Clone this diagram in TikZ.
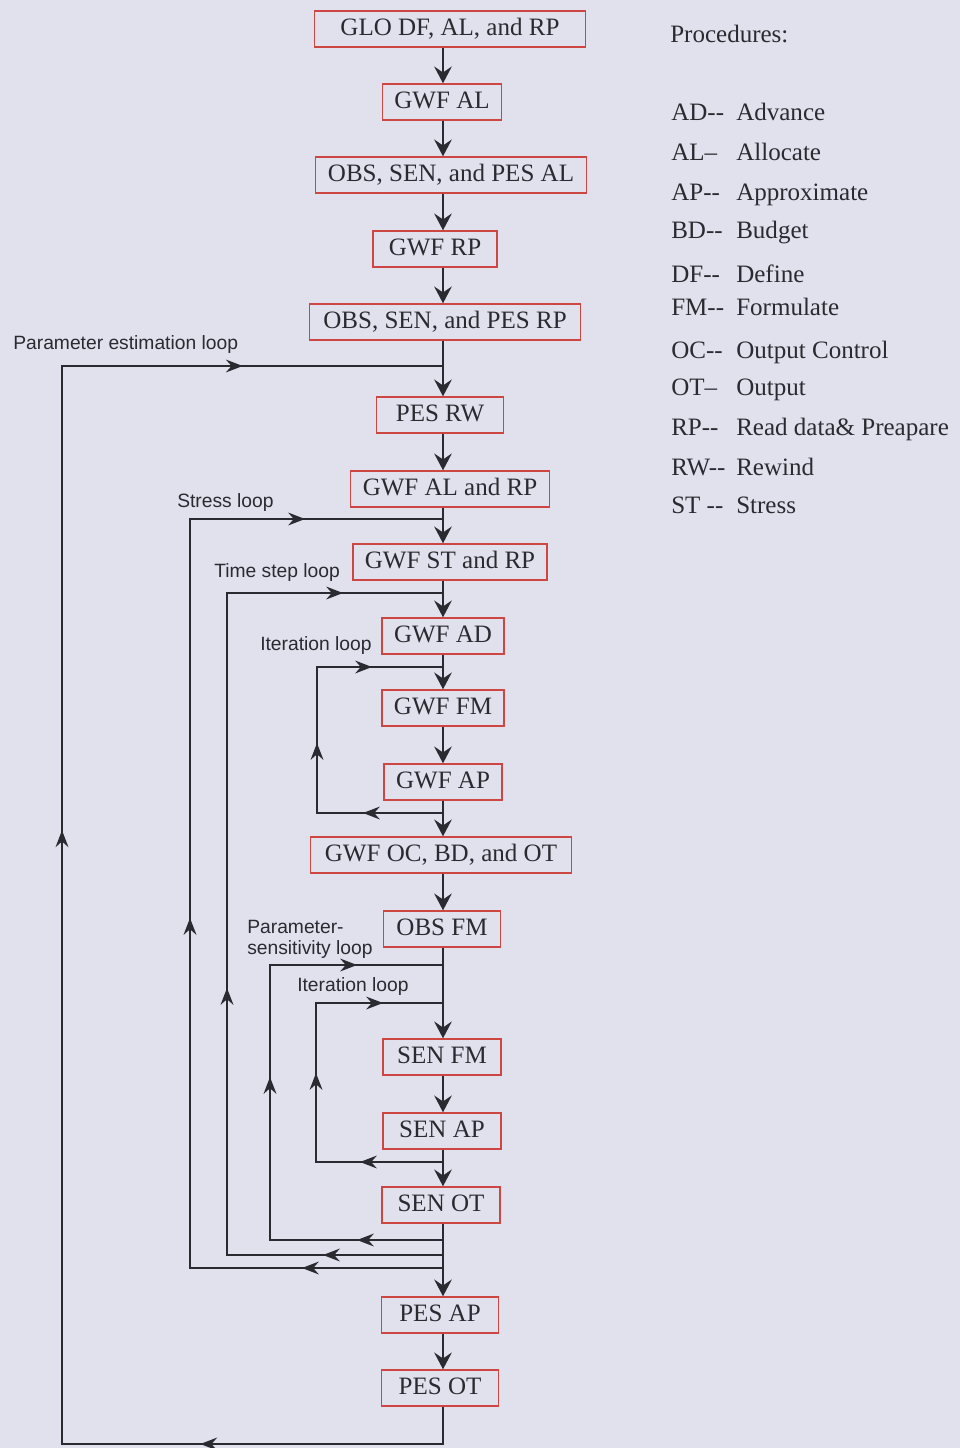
\documentclass[tikz,border=0pt]{standalone}
\usepackage{fontspec}
\setmainfont{Liberation Serif}
\setsansfont{Liberation Sans}
\usetikzlibrary{arrows.meta,decorations.markings}
\definecolor{paper}{RGB}{225,225,237}
\definecolor{boxred}{RGB}{205,70,65}
\definecolor{ink}{RGB}{42,42,48}

\tikzset{
  proc/.style={draw=boxred,line width=0.35mm,text=ink,font=\fontsize{17.8}{20}\selectfont,
    minimum height=9mm,inner xsep=3mm,inner ysep=0pt,text height=4.2mm,text depth=1.1mm},
  flow/.style={draw=ink,line width=0.5mm,-{Stealth[length=4.2mm,width=4.4mm,inset=1.5mm]}},
  loopline/.style={draw=ink,line width=0.5mm},
  looplabel/.style={font=\sffamily\fontsize{13.7}{14.8}\selectfont,text=ink,anchor=base west,
    inner sep=0pt,align=left},
  legend/.style={font=\fontsize{17.8}{20}\selectfont,text=ink,anchor=base west,inner sep=0pt},
  tipsat/.style n args={3}{postaction={decorate},decoration={markings,
    mark=at position #1 with {\arrow{Stealth[length=4.2mm,width=3.2mm,inset=1.4mm]}},
    mark=at position #2 with {\arrow{Stealth[length=4.2mm,width=3.2mm,inset=1.4mm]}},
    mark=at position #3 with {\arrow{Stealth[length=4.2mm,width=3.2mm,inset=1.4mm]}}}}
}

\begin{document}
\begin{tikzpicture}[x=0.25mm,y=-0.25mm]
  \fill[paper] (0,0) rectangle (960,1448);
  \useasboundingbox (0,0) rectangle (960,1448);

  % procedure boxes
  \node[proc,minimum width=67.75mm] (glo) at (450,29) {GLO DF, AL, and RP};
  \node[proc,minimum width=29.75mm] (gwfal) at (442,102) {GWF AL};
  \node[proc,minimum width=67.75mm] (obsal) at (451,175) {OBS, SEN, and PES AL};
  \node[proc,minimum width=31mm] (gwfrp) at (435,249) {GWF RP};
  \node[proc,minimum width=67.75mm] (obsrp) at (445,322) {OBS, SEN, and PES RP};
  \node[proc,minimum width=31.75mm] (pesrw) at (440,415) {PES RW};
  \node[proc,minimum width=48.25mm] (gwfalrp) at (450,489) {GWF AL and RP};
  \node[proc,minimum width=48.25mm] (gwfst) at (450,562) {GWF ST and RP};
  \node[proc,minimum width=29.75mm] (gwfad) at (443,636) {GWF AD};
  \node[proc,minimum width=29.75mm] (gwffm) at (443,708) {GWF FM};
  \node[proc,minimum width=29.5mm] (gwfap) at (443,782) {GWF AP};
  \node[proc,minimum width=65.25mm] (gwfoc) at (441,855) {GWF OC, BD, and OT};
  \node[proc,minimum width=29.25mm] (obsfm) at (442,929) {OBS FM};
  \node[proc,minimum width=29.5mm] (senfm) at (442,1057) {SEN FM};
  \node[proc,minimum width=29.5mm] (senap) at (442,1131) {SEN AP};
  \node[proc,minimum width=29.5mm] (senot) at (441,1205) {SEN OT};
  \node[proc,minimum width=29.25mm] (pesap) at (440,1315) {PES AP};
  \node[proc,minimum width=29.25mm] (pesot) at (440,1388) {PES OT};

  % main line
  \coordinate (sp) at (443,0);
  \foreach \a/\b in {glo/gwfal,gwfal/obsal,obsal/gwfrp,gwfrp/obsrp,obsrp/pesrw,pesrw/gwfalrp,
      gwfalrp/gwfst,gwfst/gwfad,gwfad/gwffm,gwffm/gwfap,gwfap/gwfoc,gwfoc/obsfm,obsfm/senfm,
      senfm/senap,senap/senot,senot/pesap,pesap/pesot}
    \draw[flow] (\a.south -| sp) -- (\b.north -| sp);

  % loops
  \coordinate (peT) at (443,366);  \coordinate (peB) at (443,1444);
  \coordinate (stT) at (443,519);  \coordinate (stB) at (443,1268);
  \coordinate (tsT) at (443,593);  \coordinate (tsB) at (443,1255);
  \coordinate (itT) at (443,667);  \coordinate (itB) at (443,813);
  \coordinate (psT) at (443,965);  \coordinate (psB) at (443,1240);
  \coordinate (isT) at (443,1003); \coordinate (isB) at (443,1162);

  \draw[loopline,tipsat={70mm}{258mm}{419.25mm}] (pesot.south -| sp) -- (peB) -- ++(-381,0) |- (peT);
  \draw[loopline,tipsat={35.25mm}{150.75mm}{279.25mm}] (stB) -- ++(-253,0) |- (stT);
  \draw[loopline,tipsat={30mm}{120.75mm}{248.5mm}] (tsB) -- ++(-216,0) |- (tsT);
  \draw[loopline,tipsat={20mm}{49mm}{81.75mm}] (itB) -- ++(-126,0) |- (itT);
  \draw[loopline,tipsat={21.5mm}{84mm}{133.75mm}] (psB) -- ++(-173,0) |- (psT);
  \draw[loopline,tipsat={20.75mm}{54mm}{88.25mm}] (isB) -- ++(-127,0) |- (isT);

  \node[looplabel] (pelabel) at (13,349) {Parameter estimation loop};
  \node[looplabel] (stlabel) at (177,507) {Stress loop};
  \node[looplabel] (tslabel) at (214,577) {Time step loop};
  \node[looplabel] (itlabel) at (260,650) {Iteration loop};
  \node[looplabel] (pslabel) at (247,954) {Parameter-\\sensitivity loop};
  \node[looplabel] (islabel) at (297,991) {Iteration loop};

  % legend
  \node[legend] (proc) at (670,42) {Procedures:};
  \node[legend] at (671,120) {AD-{}-};  \node[legend] at (736,120) {Advance};
  \node[legend] at (671,160) {AL–};     \node[legend] at (736,160) {Allocate};
  \node[legend] at (671,200) {AP-{}-};  \node[legend] at (736,200) {Approximate};
  \node[legend] at (671,238) {BD-{}-};  \node[legend] at (736,238) {Budget};
  \node[legend] at (671,282) {DF-{}-};  \node[legend] at (736,282) {Define};
  \node[legend] at (671,315) {FM-{}-};  \node[legend] at (736,315) {Formulate};
  \node[legend] at (671,358) {OC-{}-};  \node[legend] at (736,358) {Output Control};
  \node[legend] at (671,395) {OT–};     \node[legend] at (736,395) {Output};
  \node[legend] at (671,435) {RP-{}-};  \node[legend] at (736,435) {Read data\& Preapare};
  \node[legend] at (671,475) {RW-{}-};  \node[legend] at (736,475) {Rewind};
  \node[legend] at (671,513) {ST -{}-}; \node[legend] at (736,513) {Stress};
\end{tikzpicture}
\end{document}
